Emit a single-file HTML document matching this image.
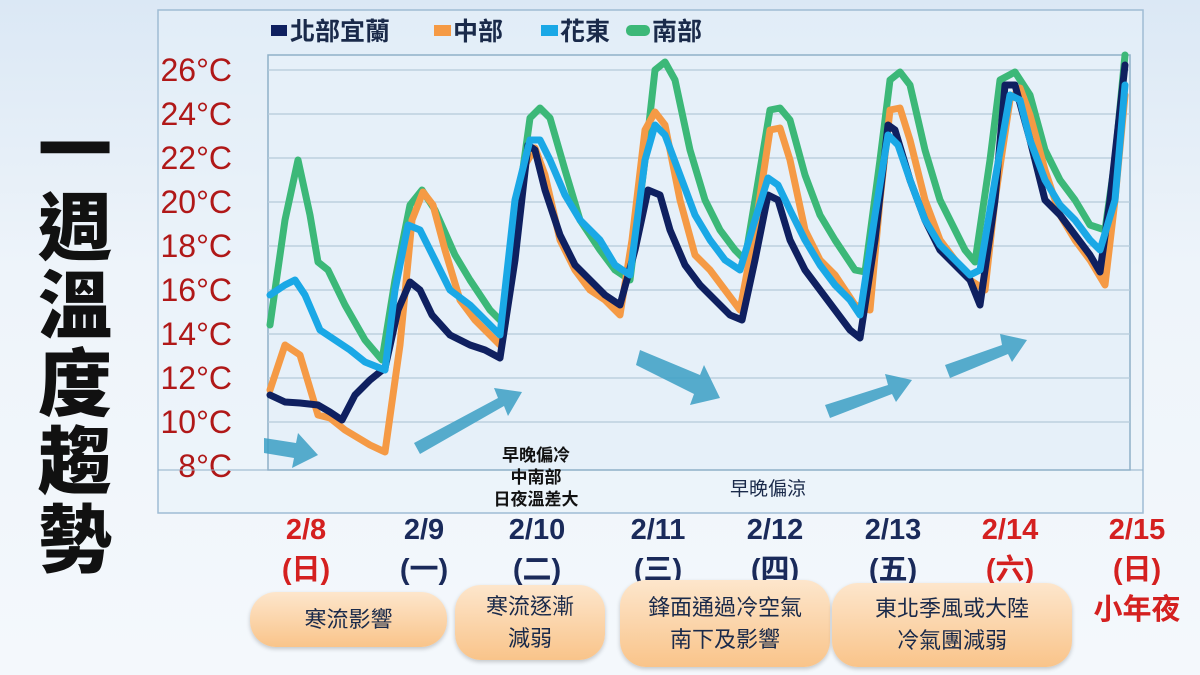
<!DOCTYPE html>
<html><head><meta charset="utf-8"><style>
body{margin:0;width:1200px;height:675px;overflow:hidden;background:linear-gradient(180deg,#dbe8f5 0%,#eef4fa 40%,#f4f8fc 100%);font-family:"Liberation Sans","Noto Sans CJK TC",sans-serif;position:relative}
.t{position:absolute;left:30px;top:112px;width:90px;font-size:74px;font-weight:900;line-height:78px;text-align:center;color:#111}
.d{position:absolute;width:120px;text-align:center;font-weight:bold;font-size:29px;line-height:40px;color:#1a2a5a}
.r{color:#d42020}
.b{position:absolute;border-radius:26px;background:linear-gradient(180deg,#fde6cc 0%,#f9c48a 100%);box-shadow:0 2px 4px rgba(0,0,0,.2);display:flex;align-items:center;justify-content:center;text-align:center;font-size:22px;line-height:32px;color:#1a2a4a}
</style></head><body>
<div class="t">一<br>週<br>溫<br>度<br>趨<br>勢</div>
<svg width="1200" height="675" style="position:absolute;left:0;top:0">
<rect x="158" y="10" width="985" height="503" fill="#e8f1f9" fill-opacity=".5" stroke="#9fbcd4" stroke-width="1.5"/>
<rect x="268" y="55" width="862" height="415" fill="#e6f0f9" stroke="#8fb0c8" stroke-width="1.5"/>
<g stroke="#b5c9d9" stroke-width="1.2">
<line x1="268" x2="1130" y1="70" y2="70"/><line x1="268" x2="1130" y1="114" y2="114"/><line x1="268" x2="1130" y1="158" y2="158"/><line x1="268" x2="1130" y1="202" y2="202"/><line x1="268" x2="1130" y1="246" y2="246"/><line x1="268" x2="1130" y1="290" y2="290"/><line x1="268" x2="1130" y1="334" y2="334"/><line x1="268" x2="1130" y1="378" y2="378"/><line x1="268" x2="1130" y1="422" y2="422"/>
</g>
<g font-family="Liberation Sans Narrow, Liberation Sans, sans-serif" font-size="32" fill="#b01818" text-anchor="end">
<text x="232" y="81">26°C</text><text x="232" y="125">24°C</text><text x="232" y="169">22°C</text><text x="232" y="213">20°C</text><text x="232" y="257">18°C</text><text x="232" y="301">16°C</text><text x="232" y="345">14°C</text><text x="232" y="389">12°C</text><text x="232" y="433">10°C</text><text x="232" y="477">8°C</text>
</g>
<g font-family="Liberation Sans, Noto Sans CJK TC, sans-serif" font-size="25" fill="#1a2a4a" font-weight="bold">
<rect x="271" y="25" width="16" height="11" fill="#0f2060"/><text x="290" y="40">北部宜蘭</text>
<rect x="434" y="25" width="17" height="11" fill="#f59a45"/><text x="453" y="40">中部</text>
<rect x="541" y="25" width="17" height="11" fill="#1aa8e6"/><text x="560" y="40">花東</text>
<rect x="626" y="25" width="24" height="11" rx="5" fill="#3cb878"/><text x="652" y="40">南部</text>
</g>
<g fill="none" stroke-width="7" stroke-linejoin="round" stroke-linecap="round">
<polyline stroke="#3cb878" points="270,325 285,220 298,160 310,215 318,262 328,270 345,305 365,340 382,360 395,280 410,205 422,190 435,210 455,255 470,280 490,310 505,325 520,190 530,118 540,108 550,118 565,170 580,220 600,250 615,270 630,280 645,160 655,70 665,62 675,80 690,150 705,200 720,230 735,250 745,260 760,170 770,110 780,108 790,120 805,175 820,215 835,240 855,270 865,272 880,160 890,80 900,72 910,85 925,150 940,200 955,230 965,250 975,262 990,160 1000,80 1015,72 1030,95 1045,150 1060,180 1075,200 1090,225 1105,230 1115,160 1125,55"/>
<polyline stroke="#f59a45" points="270,390 285,345 300,355 318,415 330,418 345,430 370,445 385,452 400,345 412,220 423,192 433,205 445,250 460,300 475,320 490,335 500,345 515,250 525,165 535,148 545,175 560,240 575,270 590,290 605,300 620,315 632,240 645,130 655,112 665,125 680,200 695,255 710,270 725,290 740,310 755,230 770,130 780,128 790,160 805,230 820,260 835,275 855,305 870,310 880,200 890,110 900,108 910,140 925,200 940,240 955,260 970,280 985,290 995,200 1010,100 1020,88 1030,115 1045,170 1060,215 1075,240 1090,260 1105,285 1115,200 1125,95"/>
<polyline stroke="#0f2060" points="270,395 285,402 300,403 318,405 330,412 342,420 355,395 370,380 385,368 398,310 410,282 420,290 432,315 450,335 470,345 485,350 500,358 515,260 528,145 535,150 545,190 560,235 575,265 590,280 605,295 620,305 635,250 648,190 660,195 670,230 685,265 700,285 715,300 730,315 742,320 755,260 768,195 778,200 790,240 805,270 820,290 835,310 850,330 860,338 875,240 888,125 895,130 910,180 925,220 940,250 955,265 970,280 980,305 995,200 1005,85 1015,85 1030,140 1045,200 1060,215 1075,235 1090,255 1100,272 1110,200 1125,65"/>
<polyline stroke="#1aa8e6" points="270,295 285,285 295,280 305,295 320,330 335,340 350,350 365,362 385,370 395,290 408,225 420,230 435,260 450,290 470,305 485,320 500,335 515,200 530,140 540,140 550,160 565,195 580,220 600,240 615,265 630,275 645,160 655,125 665,135 680,175 695,215 710,240 725,260 740,270 755,220 768,178 778,185 790,210 805,240 820,265 835,285 850,300 860,315 875,215 888,135 898,145 910,180 925,220 940,245 955,260 970,275 980,270 995,180 1010,95 1020,100 1030,140 1045,180 1060,205 1075,220 1090,240 1100,250 1115,200 1125,85"/>
</g>
<g fill="#3b9fc4" fill-opacity=".85">
<polygon points="264,438 296,443 298,433 318,455 292,468 294,458 264,453"/>
<polygon points="414,443 498,398 494,388 522,392 508,416 504,406 420,454"/>
<polygon points="640,350 700,375 704,365 720,398 690,405 694,394 636,365"/>
<polygon points="825,405 888,385 885,374 912,380 896,402 892,394 830,418"/>
<polygon points="945,365 1002,345 1000,334 1027,340 1012,362 1008,354 950,378"/>
</g>
<line x1="158" x2="1143" y1="470" y2="470" stroke="#8fb0c8"/>
<g font-family="Liberation Sans, Noto Sans CJK TC, sans-serif" text-anchor="middle" fill="#111" font-weight="bold" font-size="17">
<text x="536" y="461">早晚偏冷</text><text x="536" y="483">中南部</text><text x="536" y="505">日夜溫差大</text>
</g>
<text x="768" y="495" text-anchor="middle" font-family="Liberation Sans, Noto Sans CJK TC, sans-serif" font-size="19" fill="#1a2a4a">早晚偏涼</text>
</svg>
<div class="d r" style="left:246px;top:510px">2/8<br>(日)</div>
<div class="d" style="left:364px;top:510px">2/9<br>(一)</div>
<div class="d" style="left:477px;top:510px">2/10<br>(二)</div>
<div class="d" style="left:598px;top:510px">2/11<br>(三)</div>
<div class="d" style="left:715px;top:510px">2/12<br>(四)</div>
<div class="d" style="left:833px;top:510px">2/13<br>(五)</div>
<div class="d r" style="left:950px;top:510px">2/14<br>(六)</div>
<div class="d r" style="left:1077px;top:510px">2/15<br>(日)<br>小年夜</div>
<div class="b" style="left:250px;top:592px;width:197px;height:55px">寒流影響</div>
<div class="b" style="left:455px;top:585px;width:150px;height:75px">寒流逐漸<br>減弱</div>
<div class="b" style="left:620px;top:580px;width:210px;height:87px">鋒面通過冷空氣<br>南下及影響</div>
<div class="b" style="left:832px;top:583px;width:240px;height:84px">東北季風或大陸<br>冷氣團減弱</div>
</body></html>
